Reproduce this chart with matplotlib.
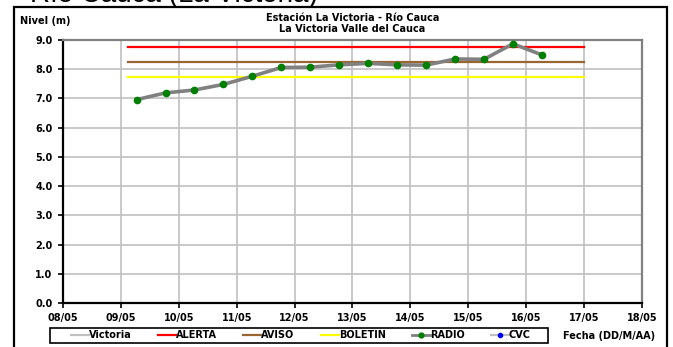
import numpy as np
import pandas as pd
import matplotlib
matplotlib.use("Agg")
import matplotlib.pyplot as plt
from matplotlib.patches import Rectangle
from matplotlib.lines import Line2D

# datos
fechas = ["09/05 06:30", "09/05 18:30", "10/05 06:30", "10/05 18:30", "11/05 06:30",
          "11/05 18:30", "12/05 06:30", "12/05 18:30", "13/05 06:30", "13/05 18:30",
          "14/05 06:30", "14/05 18:30", "15/05 06:30", "15/05 18:30", "16/05 06:30"]
radio = [6.96, 7.19, 7.29, 7.48, 7.76, 8.06, 8.07, 8.15, 8.20, 8.15, 8.14, 8.35, 8.34, 8.87, 8.49]

umbral_x = ["09/05 03:00", "17/05 00:00"]
alerta = 8.75
aviso = 8.25
boletin = 7.75

x_ticks = ["08/05", "09/05", "10/05", "11/05", "12/05", "13/05",
           "14/05", "15/05", "16/05", "17/05", "18/05"]

fx = pd.to_datetime(fechas, format="%d/%m %H:%M")
ux = pd.to_datetime(umbral_x, format="%d/%m %H:%M")
tx = pd.to_datetime(x_ticks, format="%d/%m")

plt.rcParams['font.family'] = ['DejaVu Sans']
plt.rcParams['font.weight'] = 'bold'

W, H = 673, 347
fig = plt.figure(figsize=(W / 100, H / 100), dpi=100)

# marco exterior
fig.patches.append(Rectangle((14 / W, -0.1), (667 - 14) / W, 1.1 - 7 / H,
                             transform=fig.transFigure, fill=False,
                             edgecolor='black', linewidth=1.6))
# titulo del documento cortado arriba
fig.text(318 / W, 1 - 1.5 / H, "Río Cauca (La Victoria)", ha='right', va='baseline',
         fontsize=20, fontweight='normal', family='Liberation Sans')

ax = fig.add_axes([63 / W, 1 - 303 / H, (642 - 63) / W, (303 - 40) / H])

ax.plot(ux, [alerta, alerta], color='#ff0000', lw=1.6, label='ALERTA')
ax.plot(ux, [aviso, aviso], color='#996633', lw=1.6, label='AVISO')
ax.plot(ux, [boletin, boletin], color='#ffff00', lw=1.6, label='BOLETIN')
ax.plot(fx, radio, color='#808080', lw=2.6, marker='o', markersize=4.5,
        markerfacecolor='#008000', markeredgecolor='#008000', zorder=5)

ax.set_xlim(tx[0], tx[-1])
ax.set_ylim(0, 9)
ax.set_xticks(tx)
ax.set_xticklabels(x_ticks)
ax.set_yticks(np.arange(0, 9.1, 1.0))
ax.set_yticklabels(["%.1f" % v for v in np.arange(0, 9.1, 1.0)])
ax.grid(True, color='#c0c0c0', lw=1.2)
ax.set_axisbelow(True)
ax.tick_params(labelsize=7, length=3.5, width=1.2, pad=4)
for s in ['left', 'bottom']:
    ax.spines[s].set_color('black')
    ax.spines[s].set_linewidth(1.6)
for s in ['top', 'right']:
    ax.spines[s].set_color('#808080')
    ax.spines[s].set_linewidth(1.6)

fig.text(0.5 * (63 + 642) / W, 1 - 18 / H, "Estación La Victoria - Río Cauca",
         ha='center', va='center', fontsize=7, fontweight='bold')
fig.text(0.5 * (63 + 642) / W, 1 - 29 / H, "La Victoria Valle del Cauca",
         ha='center', va='center', fontsize=7, fontweight='bold')
fig.text(20 / W, 1 - 21 / H, "Nivel (m)", ha='left', va='center', fontsize=7, fontweight='bold')
fig.text(609 / W, 1 - 336 / H, "Fecha (DD/M/AA)", ha='center', va='center',
         fontsize=7, fontweight='bold')

handles = [
    Line2D([], [], color='#c0c0c0', lw=1.6),
    Line2D([], [], color='#ff0000', lw=1.6),
    Line2D([], [], color='#996633', lw=1.6),
    Line2D([], [], color='#ffff00', lw=1.6),
    Line2D([], [], color='#808080', lw=2, marker='o', markersize=3.5,
           markerfacecolor='#008000', markeredgecolor='#008000'),
    Line2D([], [], color='#c0c0c0', lw=1.6, marker='o', markersize=3,
           markerfacecolor='#0000ff', markeredgecolor='#0000ff'),
]
labels = ['Victoria', 'ALERTA', 'AVISO', 'BOLETIN', 'RADIO', 'CVC']
leg = fig.legend(handles, labels, loc='center', ncol=6,
                 bbox_to_anchor=(301 / W, 1 - 335.5 / H),
                 fontsize=7, frameon=False, borderpad=0.0,
                 handlelength=1.85, handletextpad=0.0, columnspacing=2.7,
                 borderaxespad=0)
# caja de la leyenda
fig.patches.append(Rectangle((50 / W, 1 - 343 / H), (548 - 50) / W, 15 / H,
                             transform=fig.transFigure, fill=False,
                             edgecolor='black', linewidth=1.2))

fig.savefig("out.png", dpi=100)
